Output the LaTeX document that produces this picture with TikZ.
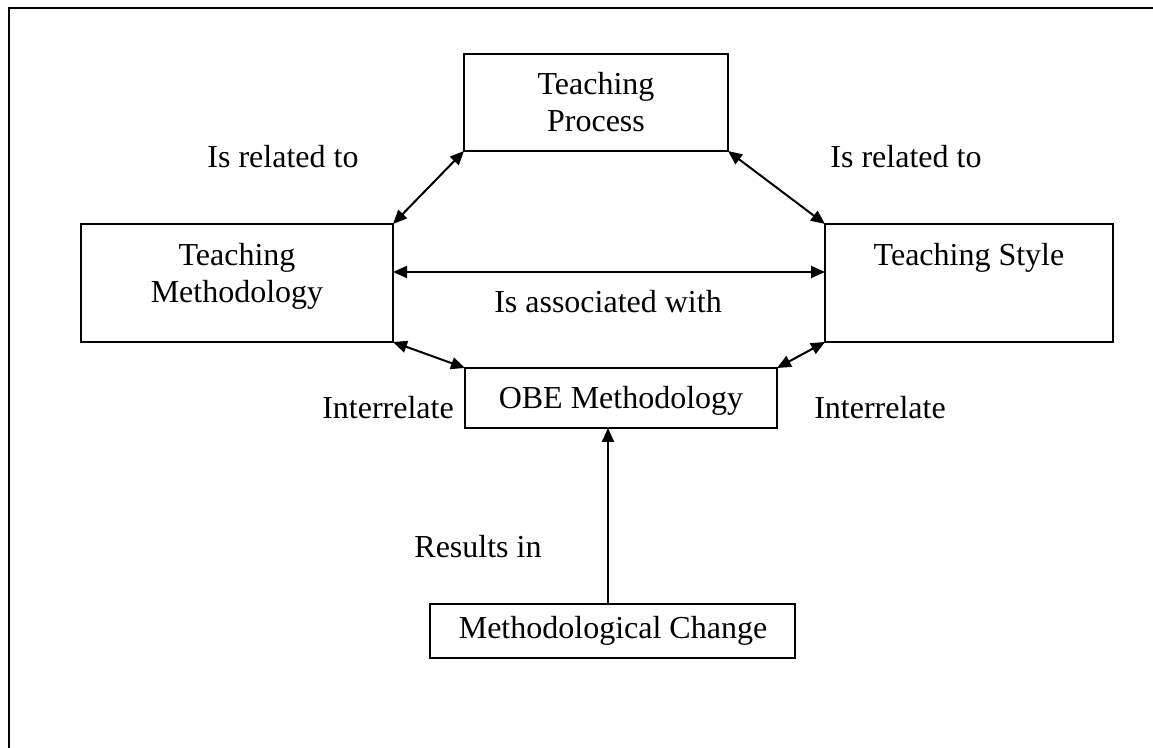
\documentclass[tikz,border=0pt]{standalone}
\usepackage{fontspec}
\setmainfont{Liberation Serif}
\usetikzlibrary{arrows.meta}
\begin{document}
\begin{tikzpicture}[x=0.5pt,y=-0.5pt,
  box/.style={draw,line width=1pt,rectangle,inner sep=0pt,outer sep=0pt},
  txt/.style={font=\fontsize{16}{18.5}\selectfont,align=center,inner sep=0pt},
  arr/.style={line width=1pt,{Triangle[length=7pt,width=6pt]}-{Triangle[length=7pt,width=6pt]}},
  arrone/.style={line width=1pt,-{Triangle[length=7pt,width=6pt]}}]
\useasboundingbox (0,0) rectangle (1153,748);
\draw[line width=1.25pt] (9,748) -- (9,8) -- (1153,8);
% boxes
\node[box,minimum width=132pt,minimum height=48.5pt] (tp) at (596,102.5) {};
\node[box,minimum width=156pt,minimum height=59pt] (tm) at (237,283) {};
\node[box,minimum width=144pt,minimum height=59pt] (ts) at (969,283) {};
\node[box,minimum width=156pt,minimum height=30pt] (obe) at (621,398) {};
\node[box,minimum width=182.5pt,minimum height=27pt] (mc) at (612.5,631) {};
% box texts
\node[txt] (tpt) at (596,102) {Teaching\\Process};
\node[txt] (tmt) at (237,276) {Teaching\\Methodology};
\node[txt] (tst) at (969,258) {Teaching Style};
\node[txt] (obet) at (621,401) {OBE Methodology};
\node[txt] (mct) at (613,631) {Methodological Change};
% connectors
\draw[arr] (tm.north east) -- (tp.south west);
\draw[arr] (tp.south east) -- (ts.north west);
\draw[arr] ([yshift=5.5pt]tm.east) -- ([yshift=5.5pt]ts.west);
\draw[arr] (tm.south east) -- (obe.north west);
\draw[arr] (ts.south west) -- (obe.north east);
\draw[arrone] ([xshift=-2.25pt]mc.north) -- ([xshift=-2.25pt]mc.north |- obe.south);
% labels
\node[txt] (l1) at (283,157) {Is related to};
\node[txt] (l2) at (906,157) {Is related to};
\node[txt] (l3) at (608,302) {Is associated with};
\node[txt] (l4) at (388,408) {Interrelate};
\node[txt] (l5) at (880,408) {Interrelate};
\node[txt] (l6) at (478,547) {Results in};
\end{tikzpicture}
\end{document}
